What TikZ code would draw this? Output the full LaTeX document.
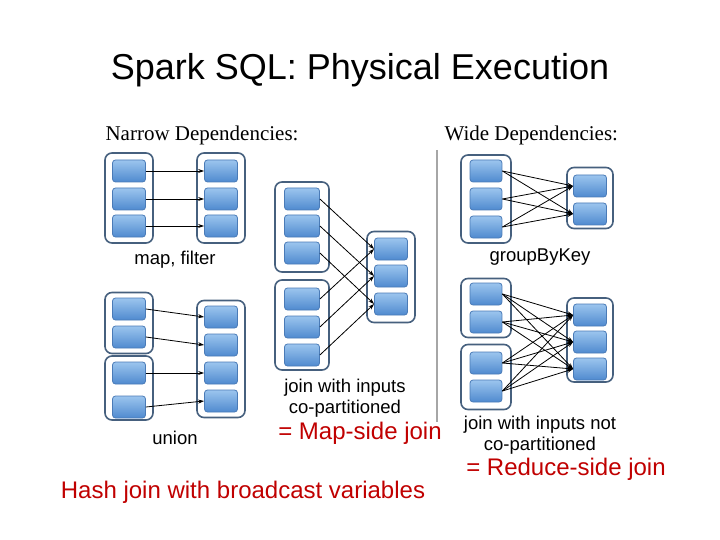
\documentclass[tikz,border=0pt]{standalone}
\usepackage{fontspec}
\setmainfont{Liberation Sans}
\newfontfamily\serifhead{Liberation Serif}
\usetikzlibrary{arrows.meta}
\definecolor{redtxt}{HTML}{C00000}
\definecolor{pborder}{HTML}{4A7BB7}
\definecolor{ptop}{HTML}{9CC5EE}
\definecolor{pbot}{HTML}{4F8ACF}
\definecolor{cborder}{HTML}{46607E}
\begin{document}
\begin{tikzpicture}[x=1pt,y=-1pt,
  part/.style={draw=pborder,line width=0.8pt,rounded corners=3pt,top color=ptop,bottom color=pbot,minimum width=33pt,minimum height=22pt,inner sep=0pt},
  cont/.style={draw=cborder,line width=1.6pt,rounded corners=7pt,fill=white,inner sep=0pt},
  arr/.style={-{Stealth[length=6pt,width=4pt]},line width=0.8pt},
  lbl/.style={font=\fontsize{18.5}{21}\selectfont,align=center},
  red/.style={font=\fontsize{24}{28}\selectfont,text=redtxt},
  head/.style={font=\serifhead\fontsize{21}{25}\selectfont,anchor=west}]
\useasboundingbox (0,0) rectangle (720,540);
\node[font=\fontsize{36}{42}\selectfont] (title) at (360,70) {Spark SQL: Physical Execution};
\node[head] (nh) at (102,135) {Narrow Dependencies:};
\node[head] (wh) at (441,135) {Wide Dependencies:};
\draw[gray!70,line width=1.2pt] (437,150) coordinate (g1) -- (437,422) coordinate (g2);
% containers
\node[cont,minimum width=48pt,minimum height=90pt] (mfL) at (129,198) {};
\node[cont,minimum width=48pt,minimum height=90pt] (mfR) at (221,198) {};
\node[cont,minimum width=48pt,minimum height=61pt] (unL1) at (129,323) {};
\node[cont,minimum width=48pt,minimum height=64pt] (unL2) at (129,388) {};
\node[cont,minimum width=48pt,minimum height=117pt] (unR) at (221,359) {};
\node[cont,minimum width=54pt,minimum height=90pt] (jL1) at (302,227) {};
\node[cont,minimum width=54pt,minimum height=90pt] (jL2) at (302,325) {};
\node[cont,minimum width=48pt,minimum height=91pt] (jR) at (391,277) {};
\node[cont,minimum width=50pt,minimum height=88pt] (gL) at (486,199) {};
\node[cont,minimum width=46pt,minimum height=61pt] (gR) at (590,198) {};
\node[cont,minimum width=50pt,minimum height=59pt] (wL1) at (486,308) {};
\node[cont,minimum width=50pt,minimum height=65pt] (wL2) at (486,377) {};
\node[cont,minimum width=46pt,minimum height=84pt] (wR) at (590,340) {};
% partitions
\foreach \i/\y in {1/171,2/199,3/226} {\node[part] (mfa\i) at (129,\y) {}; \node[part] (mfb\i) at (221,\y) {};}
\foreach \i/\y in {1/309,2/337} \node[part] (una\i) at (129,\y) {};
\foreach \i/\y in {3/373,4/407} \node[part] (una\i) at (129,\y) {};
\foreach \i/\y in {1/317,2/345,3/373,4/401} \node[part] (unb\i) at (221,\y) {};
\foreach \i/\y in {1/199,2/226,3/253} \node[part,minimum width=35pt] (ja\i) at (302,\y) {};
\foreach \i/\y in {1/299,2/327,3/355} \node[part,minimum width=35pt] (jb\i) at (302,\y) {};
\foreach \i/\y in {1/249,2/276,3/304} \node[part] (jc\i) at (391,\y) {};
\foreach \i/\y in {1/171,2/199,3/227} \node[part,minimum width=32pt] (ga\i) at (486,\y) {};
\foreach \i/\y in {1/186,2/214} \node[part] (gb\i) at (590,\y) {};
\foreach \i/\y in {1/294,2/322,3/363,4/391} \node[part,minimum width=32pt] (wa\i) at (486,\y) {};
\foreach \i/\y in {1/315,2/342,3/369} \node[part] (wb\i) at (590,\y) {};
% arrows
\foreach \i in {1,2,3} \draw[arr] (mfa\i.east) -- (mfb\i.west);
\foreach \i in {1,2,3,4} \draw[arr] (una\i.east) -- (unb\i.west);
\foreach \i in {1,2,3} {\draw[arr] (ja\i.east) -- (jc\i.west); \draw[arr] (jb\i.east) -- (jc\i.west);}
\foreach \i in {1,2,3} \foreach \j in {1,2} \draw[arr] (ga\i.east) -- (gb\j.west);
\foreach \i in {1,2,3,4} \foreach \j in {1,2,3} \draw[arr] (wa\i.east) -- (wb\j.west);
% labels
\node[lbl] (l1) at (175,260) {map, filter};
\node[lbl] (l2) at (175,438) {union};
\node[lbl] (l3) at (345,398) {join with inputs\\co-partitioned};
\node[lbl] (l4) at (540,257) {groupByKey};
\node[lbl] (l5) at (540,435) {join with inputs not\\co-partitioned};
\node[red] (r1) at (360,433) {= Map-side join};
\node[red] (r2) at (566,469) {= Reduce-side join};
\node[red] (r3) at (243,492) {Hash join with broadcast variables};
\end{tikzpicture}
\end{document}
